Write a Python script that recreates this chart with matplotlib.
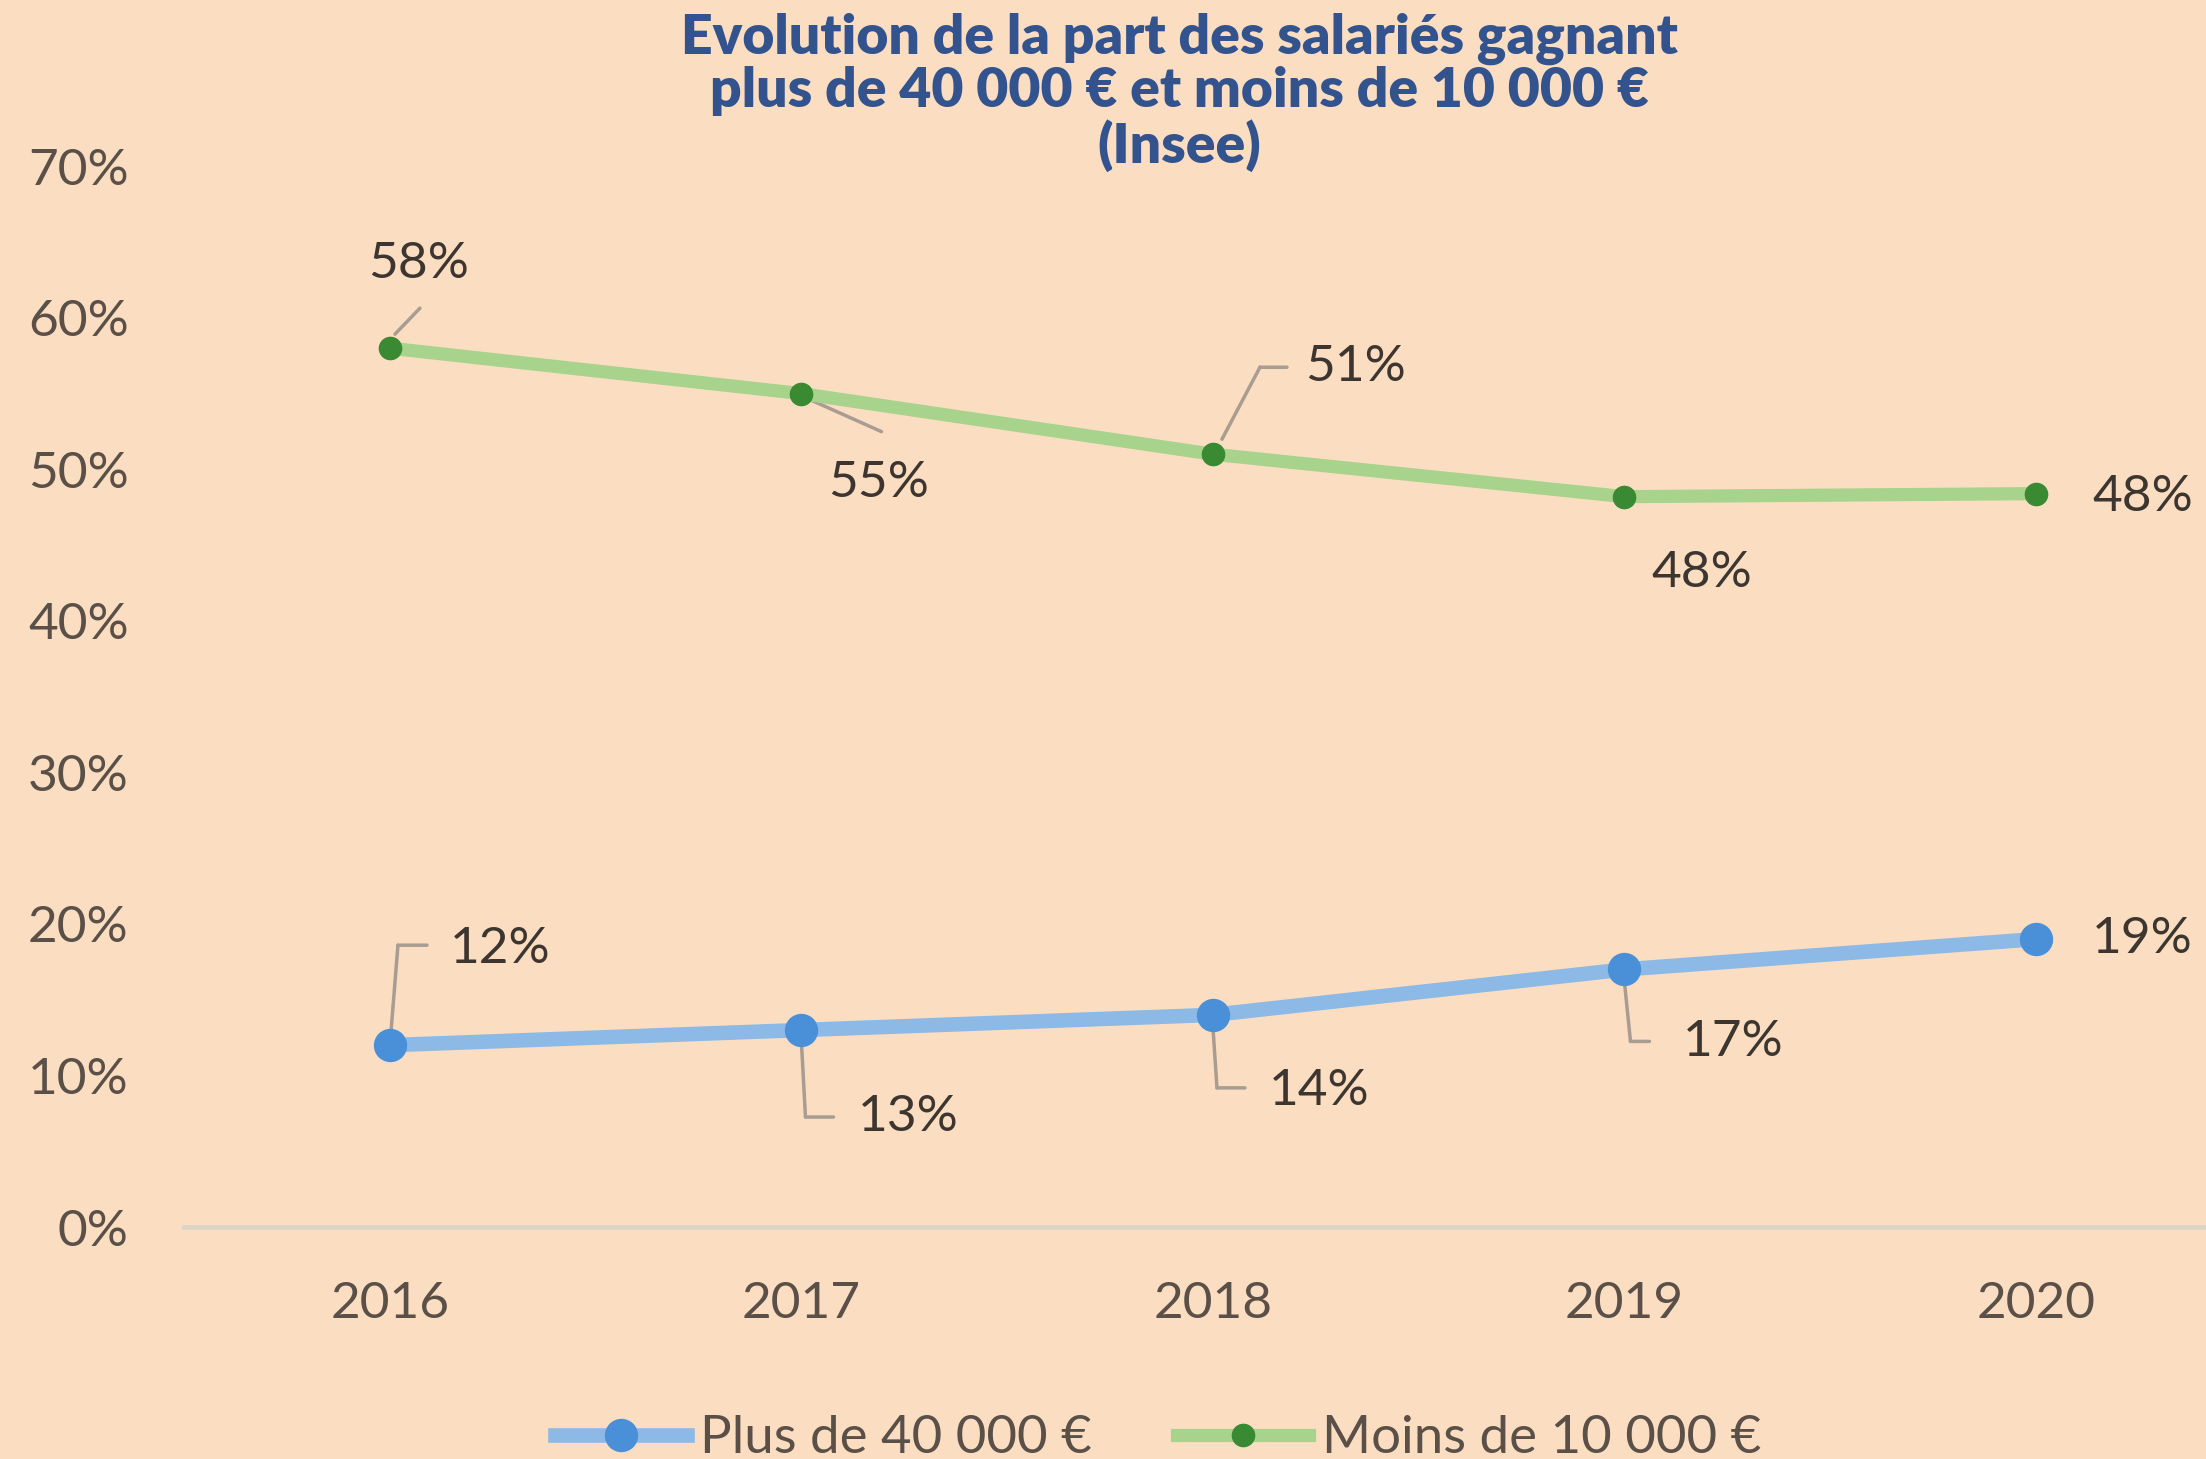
import matplotlib
matplotlib.use("Agg")
import matplotlib.pyplot as plt
from matplotlib import font_manager as fm
from matplotlib.transforms import ScaledTranslation
from matplotlib.lines import Line2D

# ---------------- data ----------------
years = ["2016", "2017", "2018", "2019", "2020"]
plus_40k = [12, 13, 14, 17, 19]          # % salariés gagnant plus de 40 000 €
moins_10k = [58, 55, 51, 48.2, 48.4]     # % salariés gagnant moins de 10 000 €
y_ticks = [0, 10, 20, 30, 40, 50, 60, 70]
series_names = ["Plus de 40 000 €", "Moins de 10 000 €"]
title_lines = ["Evolution de la part des salariés gagnant",
               "plus de 40 000 € et moins de 10 000 €",
               "(Insee)"]

# ---------------- style ----------------
def pick(cands):
    for c in cands:
        try:
            fm.findfont(fm.FontProperties(family=c), fallback_to_default=False)
            return c
        except Exception:
            pass
    return "DejaVu Sans"

BODY_FONT = pick(["Lato", "Liberation Sans Narrow", "DejaVu Sans"])
TITLE_FONT = pick(["Lato", "Open Sans", "DejaVu Sans"])
plt.rcParams["font.family"] = [BODY_FONT, "DejaVu Sans"]

BG = "#FBDEC2"
TICK_C = "#5a5048"
LABEL_C = "#3d3630"
LEADER_C = "#a99c90"
BLUE_LINE, BLUE_MK = "#8cb9e6", "#4a90d9"
GREEN_LINE, GREEN_MK = "#a7d38c", "#3a8a33"
FS = 37

fig = plt.figure(figsize=(22.06, 14.59), dpi=100, facecolor=BG)
ax = fig.add_axes([0.0835, 0.159, 0.9327, 0.727])
ax.set_facecolor(BG)

x = list(range(len(years)))
ax.plot(x, plus_40k, color=BLUE_LINE, lw=10.5, solid_capstyle="round", zorder=3)
ax.plot(x, plus_40k, ls="none", marker="o", ms=23, color=BLUE_MK, zorder=4)
ax.plot(x, moins_10k, color=GREEN_LINE, lw=9.5, solid_capstyle="round", zorder=3)
ax.plot(x, moins_10k, ls="none", marker="o", ms=16, color=GREEN_MK, zorder=4)

ax.set_xlim(-0.5, len(years) - 0.5)
ax.set_ylim(0, 70)
ax.set_yticks(y_ticks)
ax.set_yticklabels([f"{t}%" for t in y_ticks])
ax.set_xticks(x)
ax.set_xticklabels(years)
ax.tick_params(axis="both", length=0, labelsize=FS, colors=TICK_C)
ax.tick_params(axis="y", pad=40)
ax.tick_params(axis="x", pad=39)
for s in ["top", "right", "left"]:
    ax.spines[s].set_visible(False)
ax.spines["bottom"].set_color("#ddd5c8")
ax.spines["bottom"].set_linewidth(3.5)
ax.spines["bottom"].set_zorder(1)

# ---------------- data labels with leaders ----------------
def off(dx, dy):
    # dx, dy in pixels, dy positive = down on screen
    return ax.transData + ScaledTranslation(dx / 100.0, -dy / 100.0, fig.dpi_scale_trans)

def leader(i, v, pts):
    for (x1, y1), (x2, y2) in zip(pts[:-1], pts[1:]):
        ax.annotate("", xy=(i, v), xycoords=off(x2, y2),
                    xytext=(i, v), textcoords=off(x1, y1),
                    arrowprops=dict(arrowstyle="-", color=LEADER_C, lw=2.5,
                                    shrinkA=0, shrinkB=0), zorder=2)

# placement: (dx, dy, ha, leader polyline)
plus_place = [
    (60, -96, "left", [(1, -13), (8, -100), (37, -100)]),
    (56, 87, "left", [(0, 13), (4, 87), (32, 87)]),
    (56, 76, "left", [(0, 13), (4, 73), (32, 73)]),
    (58, 73, "left", [(0, 13), (6, 72), (25, 72)]),
    (56, 0, "left", None),
]
moins_place = [
    (29, -84, "center", [(5, -14), (30, -40)]),
    (27, 89, "left", [(4, 4), (80, 38)]),
    (92, -87, "left", [(9, -15), (47, -87), (74, -87)]),
    (27, 76, "left", None),
    (56, 3, "left", None),
]
for series, place in ((plus_40k, plus_place), (moins_10k, moins_place)):
    for i, (v, (dx, dy, ha, pts)) in enumerate(zip(series, place)):
        if pts:
            leader(i, v, pts)
        ax.text(i, v, f"{round(v):d}%", transform=off(dx, dy), ha=ha, va="center",
                fontsize=FS, color=LABEL_C, zorder=5)

# ---------------- title ----------------
renderer = fig.canvas.get_renderer()
target_w = 996.0  # pixel width of first title line
tfs = 40
probe = fig.text(0, 0, title_lines[0], fontsize=tfs, fontweight="heavy",
                 family=TITLE_FONT)
w = probe.get_window_extent(renderer).width
probe.remove()
tfs = tfs * target_w / w
for line, yc in zip(title_lines, [0.9735, 0.9373, 0.9003]):
    fig.text(0.5345, yc, line, ha="center", va="center", fontsize=tfs,
             fontweight="heavy", color="#32538d", family=TITLE_FONT)

# ---------------- legend ----------------
handles = [
    Line2D([], [], color=BLUE_LINE, lw=10.5, marker="o", ms=23,
           markerfacecolor=BLUE_MK, markeredgecolor=BLUE_MK),
    Line2D([], [], color=GREEN_LINE, lw=9.5, marker="o", ms=16,
           markerfacecolor=GREEN_MK, markeredgecolor=GREEN_MK),
]
leg = ax.legend(handles, series_names, loc="center", bbox_to_anchor=(0.525, 0.014),
                bbox_transform=fig.transFigure, ncol=2, frameon=False, fontsize=38,
                handlelength=2.5, handletextpad=0.25, columnspacing=1.6)
for t in leg.get_texts():
    t.set_color(TICK_C)

fig.savefig("out.png", dpi=100, facecolor=BG)
